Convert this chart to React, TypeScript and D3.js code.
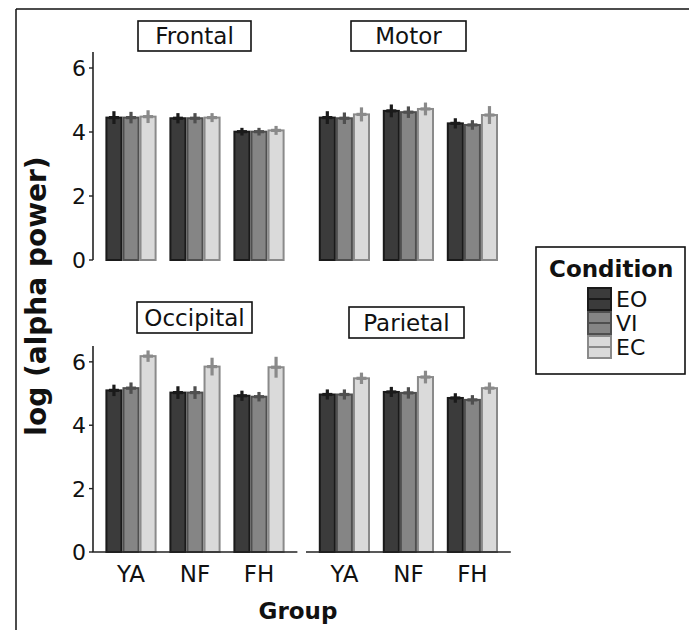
import React from 'react';
import * as d3 from 'd3';

const groups = ['YA', 'NF', 'FH'];
const conditions = ['EO', 'VI', 'EC'];
const regions = ['Frontal', 'Motor', 'Occipital', 'Parietal'];
const yTicks = [0, 2, 4, 6];

// mean log alpha power, [group][condition]
const frontalMeans = [[4.45, 4.45, 4.48], [4.43, 4.43, 4.45], [4.01, 4.01, 4.05]];
const motorMeans = [[4.45, 4.43, 4.55], [4.66, 4.62, 4.72], [4.27, 4.22, 4.53]];
const occipitalMeans = [[5.1, 5.17, 6.18], [5.03, 5.03, 5.85], [4.93, 4.9, 5.83]];
const parietalMeans = [[4.97, 4.97, 5.48], [5.05, 5.02, 5.52], [4.86, 4.8, 5.17]];

// error half-widths
const frontalErr = [[0.2, 0.18, 0.2], [0.16, 0.16, 0.14], [0.12, 0.12, 0.14]];
const motorErr = [[0.2, 0.18, 0.22], [0.2, 0.18, 0.2], [0.16, 0.15, 0.28]];
const occipitalErr = [[0.18, 0.18, 0.18], [0.2, 0.2, 0.28], [0.16, 0.15, 0.33]];
const parietalErr = [[0.16, 0.16, 0.18], [0.16, 0.18, 0.2], [0.15, 0.15, 0.18]];

const means = [frontalMeans, motorMeans, occipitalMeans, parietalMeans];
const errs = [frontalErr, motorErr, occipitalErr, parietalErr];

const fills = ['#3b3b3b', '#858585', '#dadada'];
const strokes = ['#1a1a1a', '#4f4f4f', '#8a8a8a'];

const font = '"DejaVu Sans", sans-serif';

// layout of the four panels
const panels = [
  { x0: 92.6, top: 52, zero: 260, box: [138, 21, 113, 30], leftAxis: true, bottomAxis: false },
  { x0: 306, top: 52, zero: 260, box: [351, 21, 115, 30], leftAxis: false, bottomAxis: false },
  { x0: 92.6, top: 346, zero: 552, box: [137, 302, 115, 31], leftAxis: true, bottomAxis: true },
  { x0: 306, top: 346, zero: 552, box: [349, 307, 115, 31], leftAxis: false, bottomAxis: true },
];

const Panel = ({ idx }: { idx: number }) => {
  const p = panels[idx];
  const x = d3.scaleBand().domain(groups).range([p.x0, p.x0 + 204.8]).paddingInner(0.2).paddingOuter(0.2);
  const xc = d3.scaleBand().domain(conditions).range([0, x.bandwidth()]);
  const y = d3.scaleLinear().domain([0, 6.5]).range([p.zero, p.top]);
  const [bx, by, bw, bh] = p.box;

  return (
    <g>
      {groups.map((g, gi) =>
        conditions.map((c, ci) => {
          const m = means[idx][gi][ci];
          const e = errs[idx][gi][ci];
          const left = (x(g) as number) + (xc(c) as number);
          const w = xc.bandwidth();
          const cx = left + w / 2;
          return (
            <g key={g + c}>
              <rect x={left + 1} y={y(m)} width={w - 2} height={y(0) - y(m)}
                fill={fills[ci]} stroke={strokes[ci]} strokeWidth={2} />
              <line x1={cx} x2={cx} y1={y(m - e)} y2={y(m + e)} stroke={strokes[ci]} strokeWidth={3.2} />
              <line x1={cx - 5} x2={cx + 5} y1={y(m)} y2={y(m)} stroke={strokes[ci]} strokeWidth={3.2} />
            </g>
          );
        })
      )}
      {p.leftAxis && (
        <g>
          <line x1={93} x2={93} y1={p.top} y2={p.zero} stroke="#222" strokeWidth={1.6} />
          {yTicks.map(t => (
            <g key={t}>
              <line x1={89} x2={93} y1={y(t)} y2={y(t)} stroke="#222" strokeWidth={1.4} />
              <text x={86} y={y(t)} dy="0.36em" textAnchor="end" fontSize={22} fontFamily={font} fill="#111">{t}</text>
            </g>
          ))}
        </g>
      )}
      {p.bottomAxis && (
        <g>
          <line x1={p.x0} x2={p.x0 + 204.8} y1={p.zero} y2={p.zero} stroke="#222" strokeWidth={1.6} />
          {groups.map(g => (
            <text key={g} x={(x(g) as number) + x.bandwidth() / 2} y={582} textAnchor="middle"
              fontSize={23} fontFamily={font} fill="#111">{g}</text>
          ))}
        </g>
      )}
      <rect x={bx} y={by} width={bw} height={bh} fill="#fff" stroke="#111" strokeWidth={1.6} />
      <text x={bx + bw / 2} y={by + bh / 2} dy="0.36em" textAnchor="middle" fontSize={23}
        fontFamily={font} fill="#111">{regions[idx]}</text>
    </g>
  );
};

export default function App() {
  return (
    <svg width={689} height={630} style={{ position: 'absolute', left: 0, top: 0, background: '#fff' }}>
      <rect width={689} height={630} fill="#fff" />
      <line x1={16} x2={689} y1={9} y2={9} stroke="#111" strokeWidth={1.5} />
      <line x1={16} x2={16} y1={9} y2={630} stroke="#111" strokeWidth={1.5} />
      {panels.map((_, i) => <Panel key={i} idx={i} />)}
      <text transform="translate(46,296) rotate(-90)" textAnchor="middle" fontSize={28}
        fontWeight="bold" fontFamily={font} fill="#111">log (alpha power)</text>
      <text x={298} y={619} textAnchor="middle" fontSize={23} fontWeight="bold" fontFamily={font} fill="#111">Group</text>
      <g>
        <rect x={536} y={247} width={149} height={127} fill="#fff" stroke="#111" strokeWidth={1.6} />
        <text x={549} y={277} fontSize={23} fontWeight="bold" fontFamily={font} fill="#111">Condition</text>
        {conditions.map((c, i) => (
          <g key={c}>
            <rect x={588} y={288 + i * 24} width={23} height={22} fill={fills[i]} stroke={strokes[i]} strokeWidth={2} />
            <line x1={588} x2={611} y1={299 + i * 24} y2={299 + i * 24} stroke={strokes[i]} strokeWidth={2} />
            <text x={616} y={299 + i * 24} dy="0.36em" fontSize={22} fontFamily={font} fill="#111">{c}</text>
          </g>
        ))}
      </g>
    </svg>
  );
}
